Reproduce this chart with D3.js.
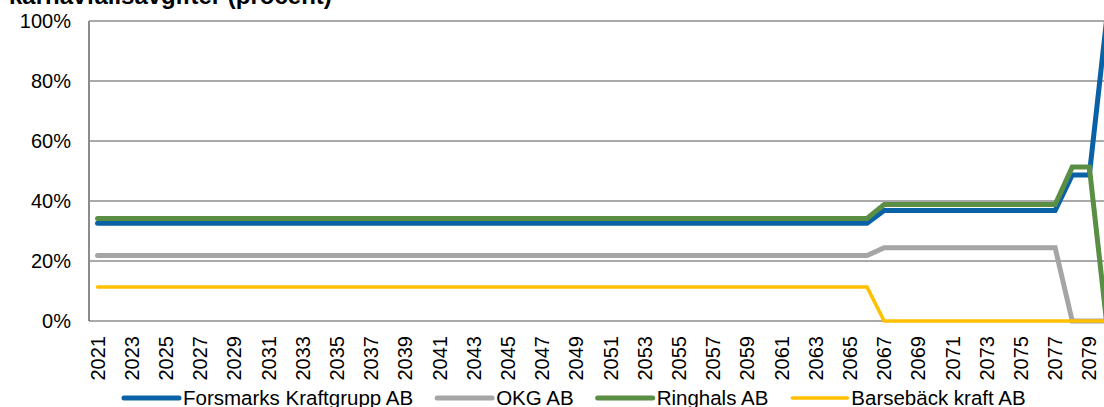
<!DOCTYPE html>
<html>
<head>
<meta charset="utf-8">
<script src="https://cdn.jsdelivr.net/npm/d3@7"></script>
<style>
  body { margin: 0; background: #fff; }
  svg { display: block; font-family: "Liberation Sans", Arial, sans-serif; }
</style>
</head>
<body>
<script>
// years on the x axis
var years = d3.range(2021, 2081);

// share of fees per company, percent
var forsmark = [], okg = [], ringhals = [], barseback = [];
years.forEach(function(y) {
  if (y <= 2066) { forsmark.push(32.6); okg.push(21.8); ringhals.push(34.2); barseback.push(11.3); }
  else if (y <= 2077) { forsmark.push(36.8); okg.push(24.4); ringhals.push(38.8); barseback.push(0); }
  else if (y <= 2079) { forsmark.push(48.7); okg.push(0); ringhals.push(51.3); barseback.push(0); }
  else { forsmark.push(100); okg.push(0); ringhals.push(0); barseback.push(0); }
});

var seriesNames = ["Forsmarks Kraftgrupp AB", "OKG AB", "Ringhals AB", "Barsebäck kraft AB"];
var seriesColors = ["#0a62a6", "#a5a5a5", "#5b8e45", "#ffc000"];
var seriesValues = [forsmark, okg, ringhals, barseback];
var yTicks = [0, 20, 40, 60, 80, 100];

var W = 1104, H = 407;
var margin = {top: 21, left: 89, bottom: 86},
    height = H - margin.top - margin.bottom;

var svg = d3.select("body").append("svg")
  .attr("width", W)
  .attr("height", H);

// title, cut off by the top edge
svg.append("text")
  .attr("x", 9)
  .attr("y", 4)
  .style("font-size", "24px")
  .style("font-weight", "bold")
  .text("kärnavfallsavgifter (procent)");

var g = svg.append("g")
  .attr("transform", "translate(" + margin.left + "," + margin.top + ")");

var xScale = d3.scaleBand().domain(years).range([0, 60 * 17.1]);
var yScale = d3.scaleLinear().domain([0, 100]).range([height, 0]);

// gridlines
g.selectAll(".grid")
  .data(yTicks.filter(function(d) { return d > 0; }))
  .enter().append("line")
  .attr("x1", 0).attr("x2", W)
  .attr("y1", function(d) { return yScale(d); })
  .attr("y2", function(d) { return yScale(d); })
  .style("stroke", function(d) { return d == 100 ? "#8c8c8c" : "#555"; })
  .style("stroke-width", function(d) { return d == 100 ? 1.6 : 1; });

// y axis
var yAxis = d3.axisLeft(yScale).tickValues(yTicks).tickSize(0).tickPadding(18)
  .tickFormat(function(d) { return d + "%"; });
g.append("g").call(yAxis)
  .call(function(s) {
    s.select(".domain").remove();
    s.selectAll("text").style("font-size", "20px").style("font-family", "Liberation Sans, Arial, sans-serif").attr("fill", "#000");
  });
g.append("line")
  .attr("x1", 0).attr("x2", 0).attr("y1", 0).attr("y2", height)
  .style("stroke", "#8c8c8c").style("stroke-width", 2);

// x axis
var xAxis = d3.axisBottom(xScale)
  .tickValues(years.filter(function(y) { return (y - 2021) % 2 == 0; }))
  .tickSize(0).tickPadding(0);
var xg = g.append("g")
  .attr("transform", "translate(0," + height + ")")
  .call(xAxis);
xg.select(".domain").remove();
xg.selectAll("text")
  .style("font-size", "20px")
  .style("font-family", "Liberation Sans, Arial, sans-serif")
  .attr("fill", "#000")
  .attr("transform", "rotate(-90)")
  .attr("x", -15).attr("y", 0).attr("dy", "0.35em")
  .style("text-anchor", "end");
g.append("line")
  .attr("x1", 0).attr("x2", W).attr("y1", height).attr("y2", height)
  .style("stroke", "#555").style("stroke-width", 1);

// lines
var line = d3.line()
  .x(function(d, i) { return xScale(years[i]) + xScale.bandwidth() / 2; })
  .y(function(d) { return yScale(d); });

g.selectAll(".series")
  .data(seriesValues)
  .enter().append("path")
  .attr("class", "series")
  .attr("d", line)
  .style("fill", "none")
  .style("stroke", function(d, i) { return seriesColors[i]; })
  .style("stroke-width", function(d, i) { return i == 3 ? 3.5 : 5; })
  .style("stroke-linecap", "round");

// legend
var lx = 124, ly = 398;
seriesNames.forEach(function(name, i) {
  svg.append("line")
    .attr("x1", lx).attr("x2", lx + 55).attr("y1", ly).attr("y2", ly)
    .style("stroke", seriesColors[i])
    .style("stroke-width", i == 3 ? 3.5 : 5)
    .style("stroke-linecap", "round");
  var t = svg.append("text")
    .attr("x", lx + 59).attr("y", ly + 7)
    .style("font-size", "20.5px")
    .text(name);
  lx += 59 + t.node().getComputedTextLength() + 24;
});
</script>
</body>
</html>
